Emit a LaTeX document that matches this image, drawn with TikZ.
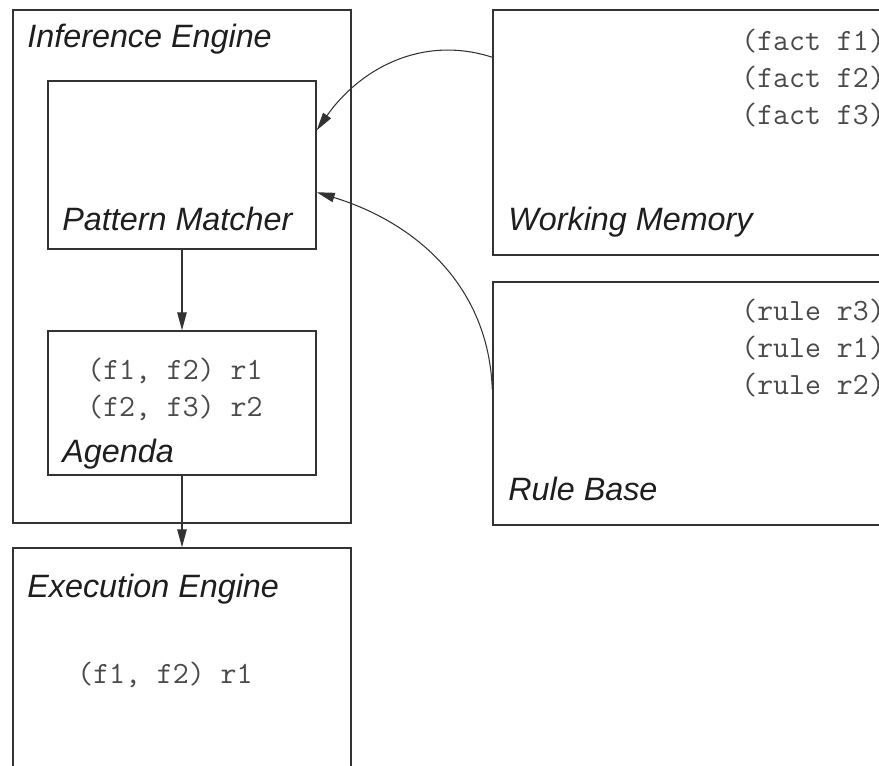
\documentclass[tikz,border=0pt]{standalone}
\usepackage{fontspec}
\usepackage{tikz}
\usetikzlibrary{positioning,calc,fit,arrows.meta}
\newfontfamily\esSans{Liberation Sans}
\definecolor{esLine}{HTML}{333333}
\definecolor{esText}{HTML}{1E1E1E}
\definecolor{esCode}{HTML}{4A4A4A}
\tikzset{
    esBox/.style={
        rectangle,
        draw=esLine,
        line width=0.85pt,
        inner sep=0pt
    },
    esTitle/.style={
        font=\esSans\itshape\fontsize{18.4}{22}\selectfont,
        text=esText,
        anchor=base west,
        inner sep=0pt
    },
    esCodeText/.style={
        font=\ttfamily\fontsize{17.6}{21}\selectfont,
        text=esCode,
        align=left,
        anchor=west,
        inner sep=0pt
    },
    % Arrows
    esArrow/.style={-{Triangle[length=3.6mm,width=1.9mm]}, line width=0.6pt, draw=esLine}
}

\begin{document}
\begin{tikzpicture}[x=0.02cm, y=-0.02cm]
\clip (0,0) rectangle (879,765);
\fill[white] (0,0) rectangle (879,765);

% Boxes (right and bottom ones run past the page edge)
\node[esBox, fit={(13,10) (351,523)}] (ie) {};
\node[esBox, fit={(48,81) (316,249)}] (pm) {};
\node[esBox, fit={(48,331) (316,475)}] (ag) {};
\node[esBox, fit={(13,548) (351,820)}] (ex) {};
\node[esBox, fit={(493,10) (920,255)}] (wm) {};
\node[esBox, fit={(493,282) (920,525)}] (rb) {};

% Titles
\node[esTitle] (ieTitle) at (27,47) {Inference Engine};
\node[esTitle] (pmTitle) at (62,230) {Pattern Matcher};
\node[esTitle] (agTitle) at (62,462) {Agenda};
\node[esTitle] (exTitle) at (27,597) {Execution Engine};
\node[esTitle] (wmTitle) at (508,230) {Working Memory};
\node[esTitle] (rbTitle) at (508,500) {Rule Base};

% Contents
\node[esCodeText] (facts) at (741,78) {(fact f1)\\(fact f2)\\(fact f3)};
\node[esCodeText] (rules) at (741,348) {(rule r3)\\(rule r1)\\(rule r2)};
\node[esCodeText] (agenda) at (87,389) {(f1, f2) r1\\(f2, f3) r2};
\node[esCodeText, anchor=base west] (fired) at (77,683) {(f1, f2) r1};

% Flow
\draw[esArrow] (pm.south) -- (ag.north);
\draw[esArrow] (ag.south) -- (ex.north);
\draw[esArrow] ($(wm.north west)+(0,48)$) to[out=162, in=55] ($(pm.north east)+(0,50)$);
\draw[esArrow] ($(rb.north west)+(0,108)$) to[out=92, in=-17] ($(pm.north east)+(0,112)$);
\end{tikzpicture}
\end{document}
